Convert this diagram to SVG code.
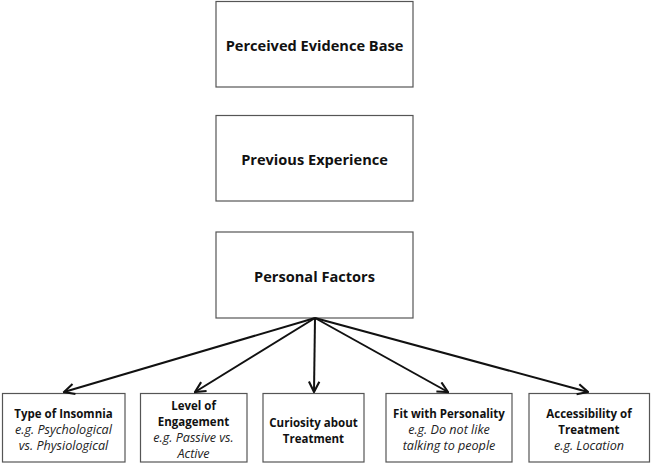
<svg xmlns="http://www.w3.org/2000/svg" width="652" height="465" viewBox="0 0 652 465">
<style>
.box{fill:#fff;stroke:#555;stroke-width:1.2}
.t{font-family:"Open Sans","Liberation Sans",sans-serif;font-weight:bold;font-size:14.6px;fill:#111;text-anchor:middle}
.b{font-family:"Open Sans","Liberation Sans",sans-serif;font-weight:bold;font-size:11.5px;fill:#111;text-anchor:middle}
.i{font-family:"Open Sans","Liberation Sans",sans-serif;font-style:italic;font-size:12.6px;fill:#222;text-anchor:middle}
.c{stroke:#111;stroke-width:2;fill:none;marker-end:url(#ah)}
</style>
<defs>
<marker id="ah" viewBox="0 0 10 10" refX="9" refY="5" markerWidth="6.5" markerHeight="6.5" orient="auto" markerUnits="strokeWidth">
<path d="M1,1 L9,5 L1,9" fill="none" stroke="#111" stroke-width="1.6"/>
</marker>
</defs>
<g id="n1"><rect class="box" x="216" y="1.5" width="197" height="85.5"/><text class="t" x="314.5" y="51">Perceived Evidence Base</text></g>
<g id="n2"><rect class="box" x="216" y="115.5" width="197" height="85.5"/><text class="t" x="314.5" y="165">Previous Experience</text></g>
<g id="n3"><rect class="box" x="216" y="232" width="197" height="86"/><text class="t" x="314.5" y="282">Personal Factors</text></g>
<g id="n4"><rect class="box" x="2.5" y="393.5" width="122.5" height="68.5"/><text class="b" x="63.5" y="418">Type of Insomnia</text><text class="i" x="63.5" y="434">e.g. Psychological</text><text class="i" x="63.5" y="450">vs. Physiological</text></g>
<g id="n5"><rect class="box" x="140.5" y="393.5" width="106.5" height="68.5"/><text class="b" x="193.5" y="410">Level of</text><text class="b" x="193.5" y="426">Engagement</text><text class="i" x="193.5" y="442">e.g. Passive vs.</text><text class="i" x="193.5" y="458">Active</text></g>
<g id="n6"><rect class="box" x="263" y="393.5" width="101" height="68.5"/><text class="b" x="313.5" y="427">Curiosity about</text><text class="b" x="313.5" y="443">Treatment</text></g>
<g id="n7"><rect class="box" x="386" y="393.5" width="126" height="68.5"/><text class="b" x="449" y="418">Fit with Personality</text><text class="i" x="449" y="434">e.g. Do not like</text><text class="i" x="449" y="450">talking to people</text></g>
<g id="n8"><rect class="box" x="529" y="393.5" width="120.5" height="68.5"/><text class="b" x="589" y="418">Accessibility of</text><text class="b" x="589" y="434">Treatment</text><text class="i" x="589" y="450">e.g. Location</text></g>
<g id="connectors">
<line class="c" x1="315" y1="318" x2="64" y2="392"/>
<line class="c" x1="315" y1="318" x2="195" y2="392"/>
<line class="c" x1="315" y1="318" x2="314" y2="392"/>
<line class="c" x1="315" y1="318" x2="448" y2="392"/>
<line class="c" x1="315" y1="318" x2="588" y2="392"/>
</g>
</svg>
